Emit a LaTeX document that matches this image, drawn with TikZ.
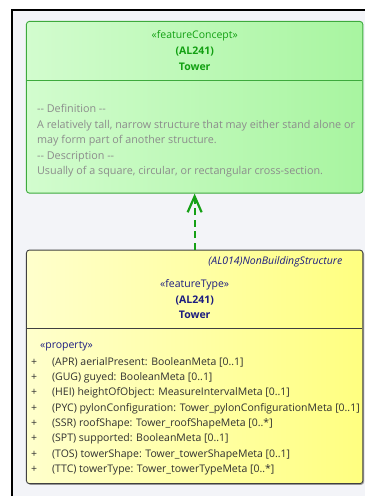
\documentclass[tikz,border=0pt]{standalone}
\usepackage{fontspec}
\setmainfont{Open Sans}
\usetikzlibrary{arrows.meta,positioning,shadows}
\definecolor{pagebg}{HTML}{F3F4F8}
\definecolor{conceptleft}{HTML}{D2FCCE}
\definecolor{conceptright}{HTML}{A8F5A0}
\definecolor{conceptline}{HTML}{3DAA3D}
\definecolor{concepttext}{HTML}{12A012}
\definecolor{notetext}{HTML}{8C8C8C}
\definecolor{typeleft}{HTML}{FFFFCC}
\definecolor{typeright}{HTML}{FFFF80}
\definecolor{typeline}{HTML}{404040}
\definecolor{typetext}{HTML}{1C1C80}
\definecolor{proptext}{HTML}{303030}
\definecolor{deparrow}{HTML}{16A016}

\begin{document}
\begin{tikzpicture}[x=1pt,y=-1pt,font=\fontsize{10.5}{12}\selectfont,
  concept/.style={draw=conceptline,line width=0.9pt,rounded corners=3pt,
    left color=conceptleft,right color=conceptright,anchor=north west,
    minimum width=337pt,minimum height=172pt,inner sep=0pt},
  ftype/.style={draw=typeline,line width=0.9pt,rounded corners=3pt,
    left color=typeleft,right color=typeright,anchor=north west,
    minimum width=337pt,minimum height=234pt,inner sep=0pt,
    drop shadow={shadow xshift=1.2pt,shadow yshift=-1.2pt,opacity=0.7}},
  hdr/.style={inner sep=0pt,anchor=base},
  note/.style={inner sep=0pt,anchor=base west,text=notetext,
    font=\fontsize{10.8}{12}\selectfont},
  prop/.style={inner sep=0pt,anchor=base west,text=proptext},
  depend/.style={draw=deparrow,line width=2.2pt,dash pattern=on 7pt off 4.5pt,
    -{Straight Barb[length=16pt,width=14pt]}}]
  % frame
  \fill[pagebg] (12,10) rectangle (366,497);
  \draw[line width=1.6pt] (12,497) -- (12,10) -- (366,10);
  \useasboundingbox (0,0) rectangle (366,497);

  % feature concept
  \node[concept] (concept) at (26,21) {};
  \draw[conceptline,line width=0.9pt] (26,81) -- (363,81);
  \node[hdr,text=concepttext] (cstereo) at (195,39) {«featureConcept»};
  \node[hdr,text=concepttext,font=\fontsize{10.5}{12}\bfseries] (ccode) at (195,55) {(AL241)};
  \node[hdr,text=concepttext,font=\fontsize{10.5}{12}\bfseries] (cname) at (195,71) {Tower};
  \foreach \line [count=\i from 0] in {
      {-{}- Definition -{}-},
      {A relatively tall, narrow structure that may either stand alone or},
      {may form part of another structure.},
      {-{}- Description -{}-},
      {Usually of a square, circular, or rectangular cross-section.}} {
    \node[note] (note\i) at (37,{113+15.5*\i}) {\line};
  }

  % feature type
  \node[ftype] (ftype) at (26,250) {};
  \draw[typeline,line width=0.9pt] (26,329) -- (363,329);
  \node[inner sep=0pt,anchor=base east,text=typetext,font=\fontsize{10.5}{12}\itshape] (parent) at (343,265) {(AL014)NonBuildingStructure};
  \node[hdr,text=typetext] (tstereo) at (195,288) {«featureType»};
  \node[hdr,text=typetext,font=\fontsize{10.5}{12}\bfseries] (tcode) at (195,304) {(AL241)};
  \node[hdr,text=typetext,font=\fontsize{10.5}{12}\bfseries] (tname) at (195,319) {Tower};
  \node[prop,text=typetext] (pstereo) at (40,349) {«property»};
  \foreach \attr [count=\i from 0] in {
      {(APR) aerialPresent: BooleanMeta [0..1]},
      {(GUG) guyed: BooleanMeta [0..1]},
      {(HEI) heightOfObject: MeasureIntervalMeta [0..1]},
      {(PYC) pylonConfiguration: Tower\_pylonConfigurationMeta [0..1]},
      {(SSR) roofShape: Tower\_roofShapeMeta [0..*]},
      {(SPT) supported: BooleanMeta [0..1]},
      {(TOS) towerShape: Tower\_towerShapeMeta [0..1]},
      {(TTC) towerType: Tower\_towerTypeMeta [0..*]}} {
    \node[prop] (plus\i) at (31,{366+15.3*\i}) {+};
    \node[prop] (attr\i) at (52,{366+15.3*\i}) {\attr};
  }

  % realization
  \draw[depend] (ftype.north -| concept.south) -- (concept.south);
\end{tikzpicture}
\end{document}
